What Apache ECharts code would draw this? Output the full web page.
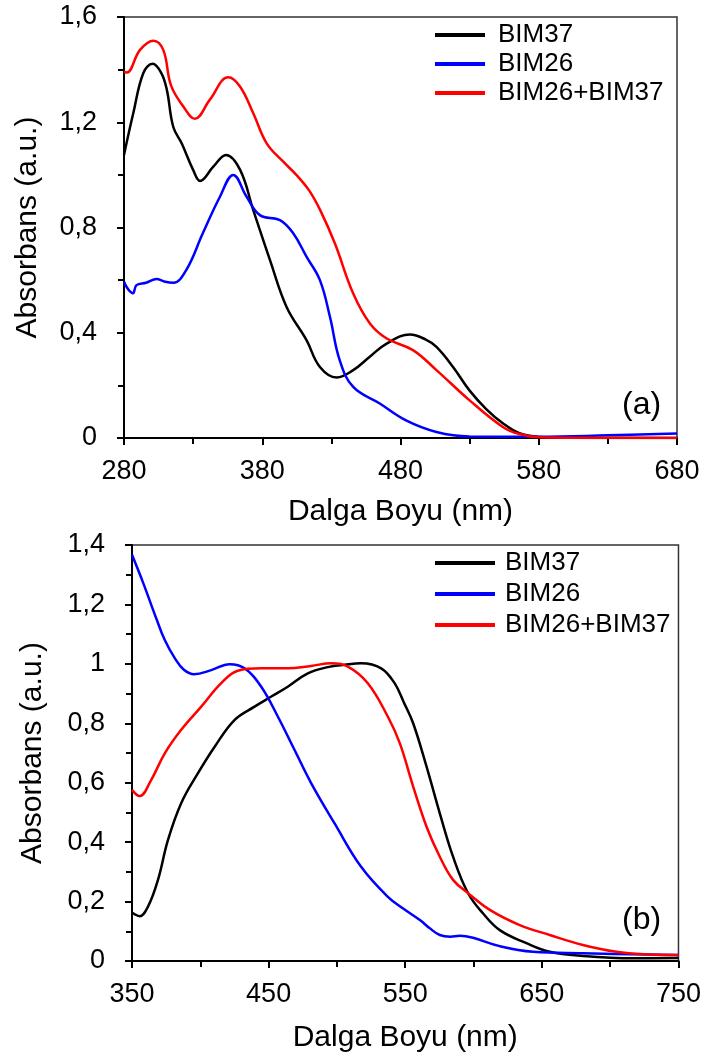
<!DOCTYPE html>
<html>
<head>
<meta charset="utf-8">
<script src="https://cdn.jsdelivr.net/npm/echarts@6/dist/echarts.min.js"></script>
<style>
  html, body { margin: 0; padding: 0; background: #fff; }
  #main { width: 704px; height: 1056px; }
</style>
</head>
<body>
<div id="main"></div>
<script>
// (a) panel: wavelength (nm) / absorbance pairs
var aWave37 = [280, 286.7, 294, 300.7, 307, 311, 315.6, 321.7, 330, 335, 344.6, 353.8, 364, 373.5, 385.6, 397.6, 412, 421.7, 433.8, 445.8, 458, 470, 486.8, 498, 506, 518, 530, 542, 554, 566, 580, 600, 640, 680];
var aAbs37  = [1.076, 1.234, 1.387, 1.422, 1.387, 1.323, 1.183, 1.12, 1.019, 0.977, 1.031, 1.076, 1.019, 0.866, 0.676, 0.498, 0.372, 0.27, 0.23, 0.258, 0.31, 0.359, 0.393, 0.375, 0.346, 0.27, 0.18, 0.11, 0.056, 0.018, 0.004, 0.001, 0, 0];

var aWave26 = [280, 283, 286.5, 289, 296, 303.6, 309, 315.7, 325, 337, 349.4, 359, 368.7, 378.3, 392.8, 402.4, 412, 421.7, 429, 436, 445.8, 465, 484, 506, 530, 580, 630, 680];
var aAbs26  = [0.594, 0.565, 0.55, 0.581, 0.59, 0.604, 0.595, 0.59, 0.638, 0.778, 0.917, 1.0, 0.917, 0.847, 0.828, 0.778, 0.689, 0.6, 0.46, 0.296, 0.194, 0.131, 0.067, 0.023, 0.006, 0.005, 0.01, 0.017];

var aWaveMix = [280, 282, 291.6, 301.2, 308.4, 314, 322.9, 331.3, 342, 355.4, 363.9, 373.5, 383.2, 395.2, 405, 414, 422, 432.5, 445.8, 457.9, 470, 489, 506, 530, 554, 566, 580, 620, 680];
var aAbsMix  = [1.391, 1.389, 1.475, 1.51, 1.475, 1.34, 1.26, 1.213, 1.285, 1.371, 1.336, 1.234, 1.12, 1.05, 0.998, 0.94, 0.865, 0.74, 0.549, 0.435, 0.378, 0.334, 0.258, 0.143, 0.042, 0.015, 0.003, 0.001, 0];

// (b) panel
var bWave37 = [350, 355.6, 361.7, 369, 376.3, 386, 398.3, 410.5, 425, 439.7, 452, 464, 478.7, 493.4, 505.6, 517.7, 532.4, 542.2, 549, 555.8, 565.6, 575.3, 585, 596, 607, 619.2, 638.7, 655.8, 680, 716.7, 750];
var bAbs37  = [0.163, 0.151, 0.183, 0.273, 0.407, 0.531, 0.632, 0.721, 0.811, 0.856, 0.89, 0.923, 0.968, 0.989, 0.997, 1.002, 0.985, 0.935, 0.87, 0.8, 0.654, 0.497, 0.351, 0.228, 0.16, 0.104, 0.06, 0.031, 0.017, 0.009, 0.01];

var bWave26 = [350, 358.3, 368, 374, 381.2, 388, 395.5, 408, 421.5, 432.4, 444.6, 456.8, 469, 481.2, 498.3, 517.7, 537.3, 549, 560.7, 568, 575.3, 583, 590, 599.7, 619.2, 643.6, 680, 750];
var bAbs26  = [1.367, 1.271, 1.15, 1.08, 1.02, 0.98, 0.965, 0.979, 0.999, 0.985, 0.923, 0.822, 0.71, 0.598, 0.463, 0.317, 0.216, 0.175, 0.138, 0.11, 0.0875, 0.082, 0.085, 0.078, 0.05, 0.031, 0.026, 0.02];

var bWaveMix = [350, 355.6, 364, 374, 386, 400.7, 415.3, 427.5, 444.6, 464, 481, 495.8, 508, 522.6, 537.3, 546, 555.8, 565.6, 575.3, 585, 596, 611.9, 633.8, 655.8, 680, 704.6, 729, 750];
var bAbsMix  = [0.576, 0.555, 0.609, 0.699, 0.778, 0.856, 0.935, 0.977, 0.985, 0.985, 0.993, 1.002, 0.991, 0.935, 0.822, 0.733, 0.587, 0.452, 0.351, 0.273, 0.228, 0.172, 0.121, 0.0875, 0.054, 0.031, 0.022, 0.02];

var names = ['BIM37', 'BIM26', 'BIM26+BIM37'];
var colors = ['#000000', '#0000ff', '#ff0000'];

function pairs(xs, ys) {
  var out = [];
  for (var i = 0; i < xs.length; i++) out.push([xs[i], ys[i]]);
  return out;
}

var font = 'Liberation Sans, Arial, sans-serif';

function xAxisFor(grid, min, max, gap) {
  return {
    type: 'value', gridIndex: grid, min: min, max: max, interval: 100,
    name: 'Dalga Boyu (nm)', nameLocation: 'middle', nameGap: gap,
    nameTextStyle: { fontSize: 30, color: '#000', fontFamily: font },
    axisLine: { lineStyle: { color: '#000', width: 2 } },
    axisTick: { show: true, length: 7, lineStyle: { color: '#000', width: 2 } },
    minorTick: { show: true, splitNumber: 2, length: 6, lineStyle: { color: '#000', width: 2 } },
    splitLine: { show: false },
    axisLabel: { fontSize: 27, color: '#000', margin: 20, fontFamily: font }
  };
}

function yAxisFor(grid, max, step, gap) {
  return {
    type: 'value', gridIndex: grid, min: 0, max: max, interval: step,
    name: 'Absorbans (a.u.)', nameLocation: 'middle', nameGap: gap, nameRotate: 90,
    nameTextStyle: { fontSize: 30, color: '#000', fontFamily: font },
    axisLine: { show: true, lineStyle: { color: '#000', width: 2 } },
    axisTick: { show: true, length: 7, lineStyle: { color: '#000', width: 2 } },
    minorTick: { show: true, splitNumber: 2, length: 6, lineStyle: { color: '#000', width: 2 } },
    splitLine: { show: false },
    axisLabel: {
      fontSize: 27, color: '#000', margin: 27, fontFamily: font,
      formatter: function (v) { return String(Math.round(v * 10) / 10).replace('.', ','); }
    }
  };
}

function lineSeries(name, color, xi, data) {
  return {
    name: name, type: 'line', xAxisIndex: xi, yAxisIndex: xi,
    data: data, smooth: 0.4, showSymbol: false, symbol: 'none',
    lineStyle: { color: color, width: 2.5 }, itemStyle: { color: color },
    z: 3
  };
}

var chart = echarts.init(document.getElementById('main'));

var option = {
  backgroundColor: '#fff',
  animation: false,
  grid: [
    { left: 124, top: 17, width: 553, height: 421, show: true, borderColor: '#333', borderWidth: 1.5 },
    { left: 132, top: 545, width: 547, height: 416, show: true, borderColor: '#333', borderWidth: 1.5 }
  ],
  xAxis: [xAxisFor(0, 280, 680, 59), xAxisFor(1, 350, 750, 62)],
  yAxis: [yAxisFor(0, 1.6, 0.4, 81), yAxisFor(1, 1.4, 0.2, 84)],
  legend: [
    {
      orient: 'vertical', left: 435, top: 22, itemGap: 3, padding: 0,
      itemWidth: 50, itemHeight: 4, icon: 'rect',
      data: names,
      textStyle: { fontSize: 26, color: '#000', fontFamily: font, padding: [0, 0, 0, 8] }
    },
    {
      orient: 'vertical', left: 435, top: 550, itemGap: 5, padding: 0,
      itemWidth: 60, itemHeight: 4, icon: 'rect',
      data: names,
      textStyle: { fontSize: 26, color: '#000', fontFamily: font, padding: [0, 0, 0, 5] }
    }
  ],
  title: [
    { text: '(a)', left: 617, top: 384, textStyle: { fontSize: 32, fontWeight: 'normal', color: '#000', fontFamily: font } },
    { text: '(b)', left: 617, top: 899, textStyle: { fontSize: 32, fontWeight: 'normal', color: '#000', fontFamily: font } }
  ],
  series: [
    lineSeries(names[0], colors[0], 0, pairs(aWave37, aAbs37)),
    lineSeries(names[1], colors[1], 0, pairs(aWave26, aAbs26)),
    lineSeries(names[2], colors[2], 0, pairs(aWaveMix, aAbsMix)),
    lineSeries(names[0], colors[0], 1, pairs(bWave37, bAbs37)),
    lineSeries(names[1], colors[1], 1, pairs(bWave26, bAbs26)),
    lineSeries(names[2], colors[2], 1, pairs(bWaveMix, bAbsMix))
  ]
};

chart.setOption(option);
</script>
</body>
</html>
